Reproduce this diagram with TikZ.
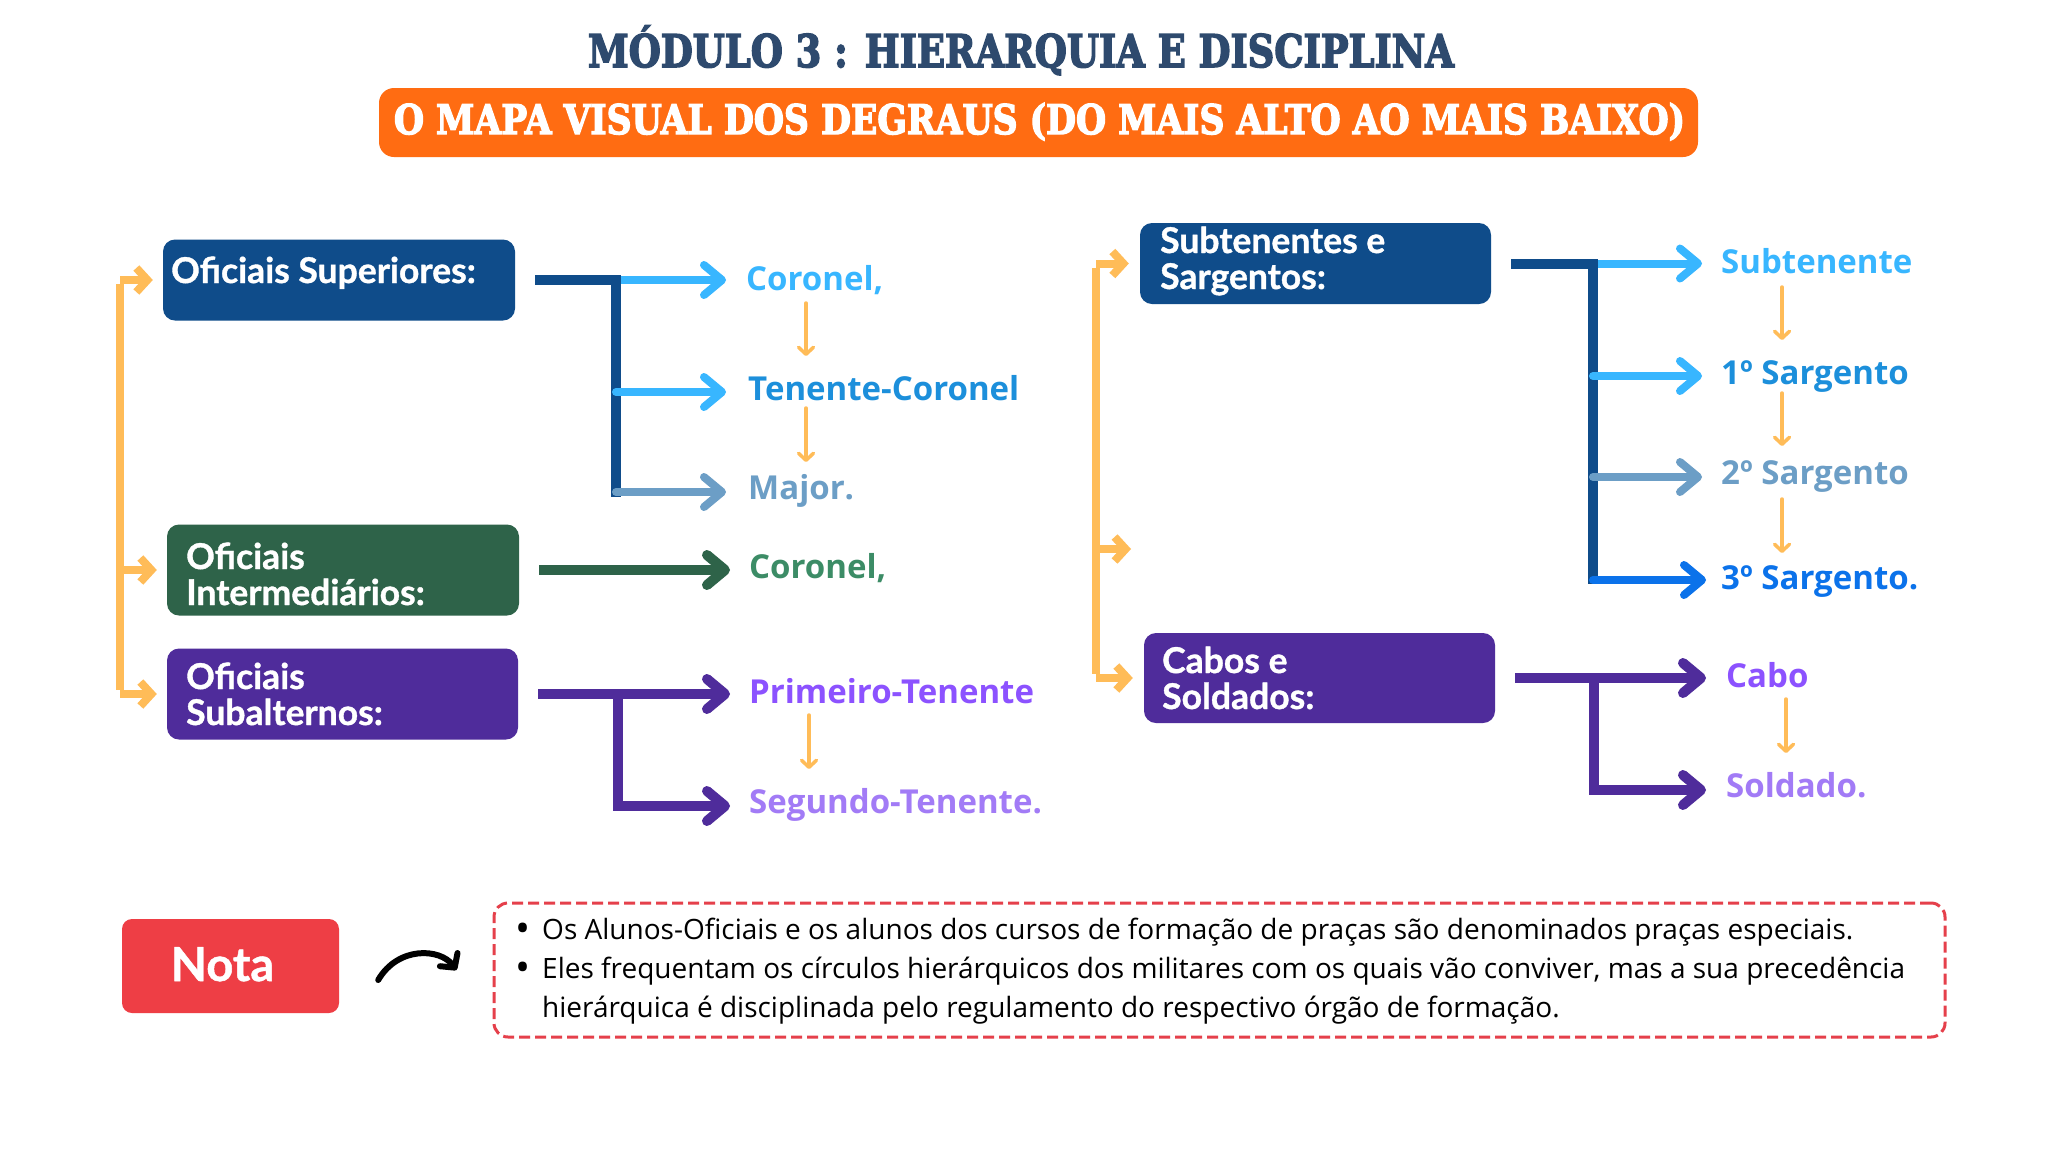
\documentclass[tikz,border=0pt]{standalone}
\usepackage{graphicx}
\usepackage{fontspec}
\setmainfont{Open Sans}
\newfontfamily\latofont[FakeBold=1]{Lato}
\newfontfamily\titlefont[FakeBold=3.5]{DejaVu Serif}
\usetikzlibrary{arrows.meta}
\definecolor{dblue}{HTML}{0F4C8A}
\definecolor{dgreen}{HTML}{2E6349}
\definecolor{dpurple}{HTML}{4F2C9B}
\definecolor{lblue}{HTML}{38B6FF}
\definecolor{mblue}{HTML}{1C8FDB}
\definecolor{sblue}{HTML}{6C9EC6}
\definecolor{vblue}{HTML}{0B72EA}
\definecolor{mgreen}{HTML}{3C8C66}
\definecolor{vpurple}{HTML}{8C52FF}
\definecolor{lpurple}{HTML}{A27BF6}
\definecolor{orng}{HTML}{FFBC58}
\definecolor{bannerc}{HTML}{FF6C12}
\definecolor{titlec}{HTML}{2E4A6E}
\definecolor{notared}{HTML}{EE3E45}
\definecolor{dashred}{HTML}{E5404B}
\begin{document}
\begin{tikzpicture}[x=1pt,y=-1pt,
  box/.style={rounded corners=12pt, inner sep=0pt, draw=none},
  boxtxt/.style={font=\latofont\bfseries\fontsize{35.5}{36}\selectfont, text=white, inner sep=0pt, anchor=base west, align=left},
  lbl/.style={font=\bfseries\fontsize{33}{33}\selectfont, inner sep=0pt, anchor=base west},
  conn/.style={line width=10pt, line join=miter},
  brarr/.style={line width=8pt, line cap=round, -{Straight Barb[length=18pt,width=30pt,round]}},
  orbr/.style={line width=8pt, draw=orng},
  orarr/.style={line width=8pt, draw=orng, -{Straight Barb[length=11pt,width=24pt]}},
  smarr/.style={line width=3.5pt, draw=orng, line cap=round, -{Straight Barb[length=7pt,width=15pt,round]}},
  notetxt/.style={font=\fontsize{28}{39}\selectfont, inner sep=0pt, anchor=base west, align=left},
  bullet/.style={font=\fontsize{40}{40}\selectfont, inner sep=0pt, anchor=base west}
]
\useasboundingbox[fill=white] (0,0) rectangle (2048,1152);

% title and banner
\node[anchor=base, inner sep=0pt, text=titlec] (title) at (1021,67)
  {\scalebox{1}[1.22]{\resizebox{866pt}{!}{\titlefont\bfseries\fontsize{36}{36}\selectfont MÓDULO 3 : HIERARQUIA E DISCIPLINA}}};
\node[box, fill=bannerc, rounded corners=15pt, minimum width=1319pt, minimum height=69pt] (banner) at (1038.5,122.5) {};
\node[anchor=base, inner sep=0pt, text=white] (bannerT) at (1039.5,134)
  {\scalebox{1}[1.18]{\resizebox{1291pt}{!}{\titlefont\bfseries\fontsize{36}{36}\selectfont O MAPA VISUAL DOS DEGRAUS (DO MAIS ALTO AO MAIS BAIXO)}}};

% boxes
\node[box, fill=dblue, minimum width=352pt, minimum height=81pt] (supB) at (339,280) {};
\node[boxtxt] (supT) at (171,283) {Oficiais Superiores:};
\node[box, fill=dgreen, minimum width=352pt, minimum height=91pt] (intB) at (343,570) {};
\node[boxtxt] (intT) at (186,605) {Oficiais\\Intermediários:};
\node[box, fill=dpurple, minimum width=351pt, minimum height=91pt] (subB) at (342.5,694) {};
\node[boxtxt] (subT) at (186,725) {Oficiais\\Subalternos:};
\node[box, fill=dblue, minimum width=351pt, minimum height=81pt] (sgtB) at (1315.5,263.5) {};
\node[boxtxt] (sgtT) at (1160,289) {Subtenentes e\\Sargentos:};
\node[box, fill=dpurple, minimum width=351pt, minimum height=90pt] (cabB) at (1319.5,678) {};
\node[boxtxt] (cabT) at (1162,709) {Cabos e\\Soldados:};

% labels
\node[lbl, text=lblue] (c1) at (746,290) {Coronel,};
\node[lbl, text=mblue] (c2) at (748,400) {Tenente-Coronel};
\node[lbl, text=sblue] (c3) at (748,499) {Major.};
\node[lbl, text=mgreen] (g1) at (749,578) {Coronel,};
\node[lbl, text=vpurple] (p1) at (749,703) {Primeiro-Tenente};
\node[lbl, text=lpurple] (p2) at (749,813) {Segundo-Tenente.};
\node[lbl, text=lblue] (s1) at (1721,273) {Subtenente};
\node[lbl, text=mblue] (s2) at (1721,384) {1º Sargento};
\node[lbl, text=sblue] (s3) at (1721,484) {2º Sargento};
\node[lbl, text=vblue] (s4) at (1721,589) {3º Sargento.};
\node[lbl, text=vpurple] (k1) at (1726,687) {Cabo};
\node[lbl, text=lpurple] (k2) at (1726,797) {Soldado.};

% left orange bracket
\coordinate (lb1) at (120,280);
\coordinate (lb2) at (120,570);
\coordinate (lb3) at (120,694);
\draw[orbr] ([yshift=-4pt]lb1) -- ([yshift=4pt]lb3);
\draw[orarr] (lb1) -- ([xshift=-10pt]supB.west);
\draw[orarr] (lb2) -- ([xshift=-10pt]intB.west);
\draw[orarr] (lb3) -- ([xshift=-10pt]subB.west);

% right orange bracket
\coordinate (rb1) at (1096,263.5);
\coordinate (rb2) at (1096,549);
\coordinate (rb3) at (1096,678);
\coordinate (rb2e) at (1131,549);
\draw[orbr] ([yshift=-4pt]rb1) -- ([yshift=4pt]rb3);
\draw[orarr] (rb1) -- ([xshift=-11pt]sgtB.west);
\draw[orarr] (rb2) -- (rb2e);
\draw[orarr] (rb3) -- ([xshift=-11pt]cabB.west);

% tree: superiores
\coordinate (supJ) at (616,280);
\draw[brarr, draw=lblue] (621,280) -- (726,280);
\draw[conn, draw=dblue] ([xshift=20pt]supB.east) -- (supJ) -- (616,497);
\draw[brarr, draw=lblue] (616,392) -- (726,392);
\draw[brarr, draw=sblue] (616,492) -- (726,492);

% tree: intermediarios
\draw[line width=10pt, draw=dgreen, -{Straight Barb[length=18pt,width=30pt,round]}] ([xshift=20pt]intB.east) -- (730,570);

% tree: subalternos
\coordinate (subJ) at (618,694);
\draw[line width=10pt, draw=dpurple, -{Straight Barb[length=18pt,width=30pt,round]}] ([xshift=20pt]subB.east) -- (730,694);
\draw[line width=10pt, draw=dpurple, line join=miter, -{Straight Barb[length=18pt,width=30pt,round]}] (subJ) |- (730,806);

% tree: sargentos
\coordinate (sgtJ) at (1593,263.5);
\draw[brarr, draw=lblue] (1598,263.5) -- (1702,263.5);
\draw[conn, draw=dblue] ([xshift=20pt]sgtB.east) -- (sgtJ) -- (1593,584);
\draw[brarr, draw=lblue] (1593,376) -- (1702,376);
\draw[brarr, draw=sblue] (1593,477) -- (1702,477);
\draw[brarr, draw=vblue] (1593,580) -- (1706,580);

% tree: cabos
\coordinate (cabJ) at (1594,678);
\draw[line width=10pt, draw=dpurple, -{Straight Barb[length=18pt,width=30pt,round]}] ([xshift=20pt]cabB.east) -- (1706,678);
\draw[line width=10pt, draw=dpurple, line join=miter, -{Straight Barb[length=18pt,width=30pt,round]}] (cabJ) |- (1706,790);

% small orange arrows
\draw[smarr] (806,303) -- (806,356);
\draw[smarr] (806,408) -- (806,462);
\draw[smarr] (809,715) -- (809,769);
\draw[smarr] (1782,287) -- (1782,340);
\draw[smarr] (1782,393) -- (1782,446);
\draw[smarr] (1782,499) -- (1782,553);
\draw[smarr] (1786,699) -- (1786,753);

% nota
\node[box, fill=notared, rounded corners=10pt, minimum width=217pt, minimum height=94pt] (notaB) at (230.5,966) {};
\node[font=\latofont\bfseries\fontsize{47}{47}\selectfont, text=white, anchor=base, inner sep=0pt] (notaT) at (222.5,981) {Nota};
\node[draw=dashred, line width=3pt, dash pattern=on 11pt off 5pt, rounded corners=14pt, minimum width=1451pt, minimum height=134pt, inner sep=0pt] (noteB) at (1219.5,970) {};
\draw[line width=6pt, line cap=round, -{Straight Barb[length=10pt,width=22pt,round]}]
  ([xshift=39pt,yshift=-14pt]notaB.east) .. controls (398,946) and (440,948) .. ([xshift=-36pt]noteB.west |- 0,970);
\node[bullet] (b1) at (515,942) {•};
\node[notetxt] (l1) at (542,939) {Os Alunos-Oficiais e os alunos dos cursos de formação de praças são denominados praças especiais.};
\node[bullet] (b2) at (515,981) {•};
\node[notetxt] (l2) at (542,1017) {Eles frequentam os círculos hierárquicos dos militares com os quais vão conviver, mas a sua precedência\\hierárquica é disciplinada pelo regulamento do respectivo órgão de formação.};
\end{tikzpicture}
\end{document}
